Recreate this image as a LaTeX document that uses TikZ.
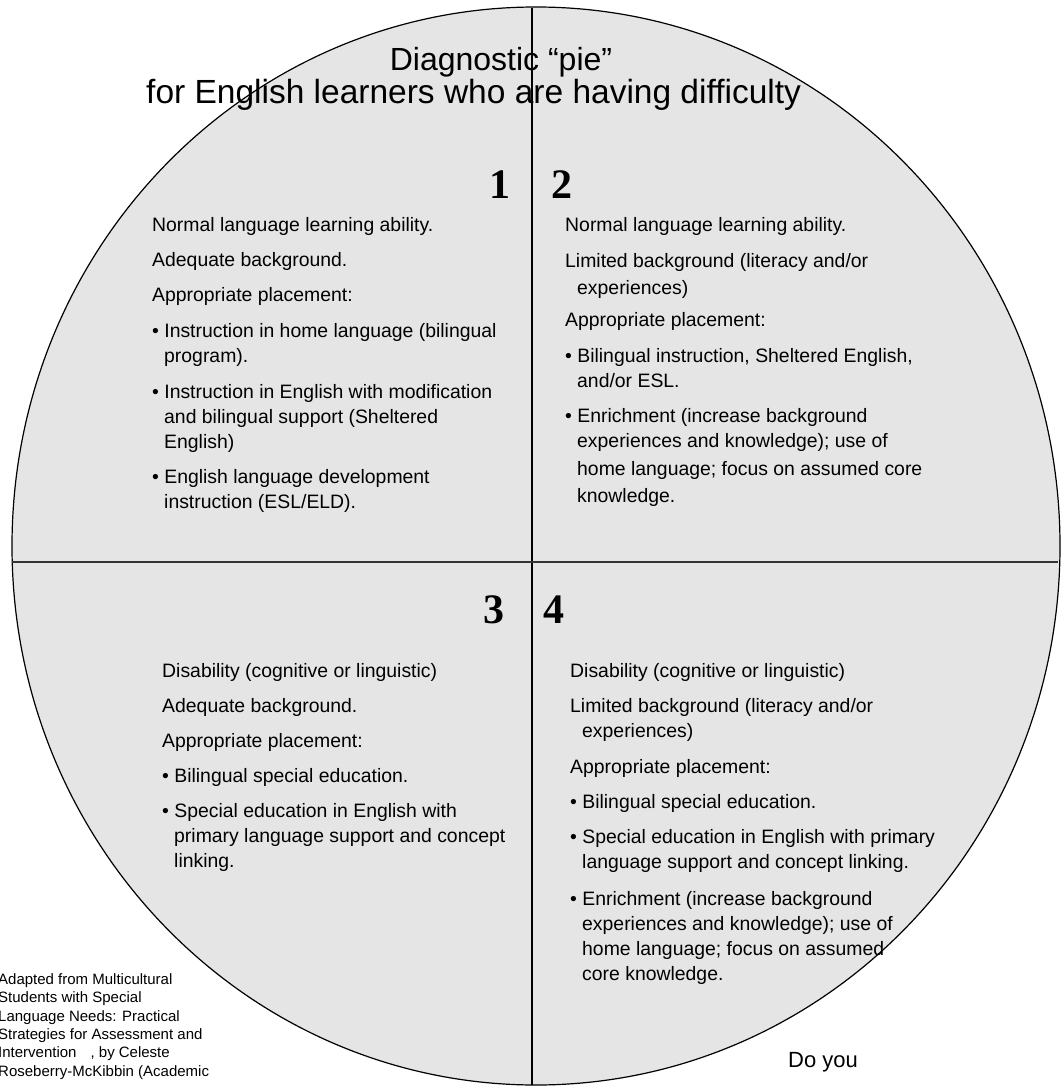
\documentclass[tikz,border=0pt]{standalone}
\usepackage{fontspec}
\setmainfont{Liberation Sans}
\newfontfamily\numfont{Liberation Serif}
\usetikzlibrary{positioning}

\definecolor{piegray}{gray}{0.898}

% bullet and hanging indent for wrapped lines
\newcommand{\bul}{\textbullet\ }
\newcommand{\cont}{\hspace*{12pt}}

\begin{document}
\begin{tikzpicture}[x=1pt, y=-1pt,
  % base anchor of a multi-line node sits on its last line
  quadtext/.style={anchor=base west, align=left, inner sep=0pt,
                   font=\fontsize{19.4}{25}\selectfont},
  quadnum/.style={anchor=base, inner sep=0pt,
                  font=\numfont\bfseries\fontsize{42}{42}\selectfont},
  titletext/.style={anchor=base, inner sep=0pt,
                    font=\fontsize{32}{36}\selectfont},
  sidetext/.style={anchor=base west, align=left, inner sep=0pt,
                   font=\fontsize{15}{18.3}\selectfont}
]
  \path[use as bounding box, fill=white] (0,0) rectangle (1064,1086);
  \clip (0,0) rectangle (1064,1086);

  % the pie
  \draw[fill=piegray, line width=1.2pt] (536,546) ellipse [x radius=524, y radius=539];
  \draw[line width=1.3pt] (532,8) -- (532,1085);
  \draw[line width=1.8pt, black!80] (12,562) -- (1058,562);

  % title
  \node[titletext] (title1) at (501,71) {Diagnostic “pie”};
  \node[titletext, anchor=base west, font=\fontsize{33.5}{36}\selectfont]
    (title2) at (146,104) {for English learners who are having difficulty};

  % quadrant numbers
  \node[quadnum] (num1) at (500,199) {1};
  \node[quadnum] (num2) at (562,199) {2};
  \node[quadnum] (num3) at (494,623) {3};
  \node[quadnum] (num4) at (554,623) {4};

  % quadrant texts
  \node[quadtext] (text1) at (152,508) {%
    Normal language learning ability.\\[10pt]
    Adequate background.\\[10pt]
    Appropriate placement:\\[11pt]
    \bul Instruction in home language (bilingual\\
    \cont program).\\[11pt]
    \bul Instruction in English with modification\\
    \cont and bilingual support (Sheltered\\
    \cont English)\\[10pt]
    \bul English language development\\
    \cont instruction (ESL/ELD).};

  \node[quadtext] (text2) at (565,502) {%
    Normal language learning ability.\\[11pt]
    Limited background (literacy and/or\\[2pt]
    \cont experiences)\\[7pt]
    Appropriate placement:\\[11pt]
    \bul Bilingual instruction, Sheltered English,\\
    \cont and/or ESL.\\[10pt]
    \bul Enrichment (increase background\\
    \cont experiences and knowledge); use of\\[3pt]
    \cont home language; focus on assumed core\\[2pt]
    \cont knowledge.};

  \node[quadtext] (text3) at (162,867) {%
    Disability (cognitive or linguistic)\\[10pt]
    Adequate background.\\[10pt]
    Appropriate placement:\\[10pt]
    \bul Bilingual special education.\\[10pt]
    \bul Special education in English with\\
    \cont primary language support and concept\\
    \cont linking.};

  \node[quadtext] (text4) at (570,980) {%
    Disability (cognitive or linguistic)\\[10pt]
    Limited background (literacy and/or\\
    \cont experiences)\\[11pt]
    Appropriate placement:\\[10pt]
    \bul Bilingual special education.\\[10pt]
    \bul Special education in English with primary\\
    \cont language support and concept linking.\\[12pt]
    \bul Enrichment (increase background\\
    \cont experiences and knowledge); use of\\
    \cont home language; focus on assumed\\
    \cont core knowledge.};

  % source note and question
  \node[sidetext] (source) at (-2,1076) {%
    Adapted from Multicultural\\
    Students with Special\\
    Language Needs: Practical\\
    Strategies for Assessment and\\
    Intervention\hspace{14pt}, by Celeste\\
    Roseberry-McKibbin (Academic};
  \node[anchor=base west, inner sep=0pt, font=\fontsize{22}{26}\selectfont]
    (question) at (788,1067) {Do you};
\end{tikzpicture}
\end{document}
